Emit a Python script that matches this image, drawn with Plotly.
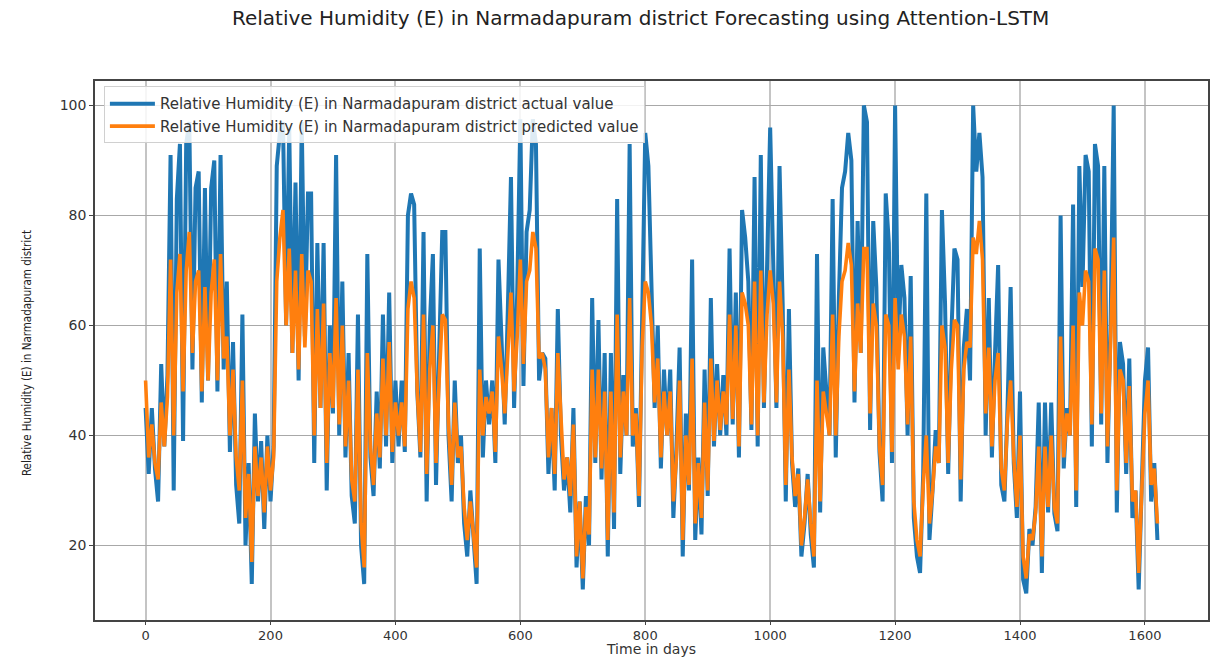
import plotly.graph_objects as go

# Time index (days), sampled every 5 days
days = list(range(0, 1621, 5))

actual = [
    45, 33, 45, 34, 28, 53, 38, 51, 91, 30,
    83, 93, 39, 93, 97, 52, 85, 88, 46, 85,
    50, 85, 90, 48, 91, 52, 68, 37, 57, 31,
    24, 62, 20, 35, 13, 44, 28, 39, 23, 40,
    28, 38, 89, 95, 97, 60, 96, 55, 86, 50,
    97, 58, 84, 84, 35, 75, 45, 75, 30, 60,
    44, 91, 40, 68, 36, 55, 29, 24, 62, 20,
    13, 73, 36, 29, 48, 34, 62, 38, 66, 35,
    50, 38, 50, 37, 80, 84, 82, 48, 36, 77,
    28, 60, 73, 31, 55, 77, 77, 40, 28, 50,
    35, 40, 24, 18, 30, 20, 13, 74, 36, 50,
    42, 50, 35, 72, 58, 42, 63, 87, 45, 66,
    97.5, 49, 77, 81, 97.5, 93, 50, 55, 54, 33,
    45, 30, 63, 40, 30, 36, 26, 45, 16, 28,
    12, 29, 20, 65, 35, 61, 32, 55, 18, 55,
    23, 83, 33, 51, 40, 93, 38, 45, 27, 67,
    95, 89, 70, 45, 60, 34, 52, 40, 52, 25,
    38, 56, 18, 44, 30, 72, 21, 36, 22, 52,
    29, 65, 38, 53, 40, 51, 40, 74, 42, 66,
    36, 81, 76, 68, 41, 87, 38, 91, 45, 70,
    96, 71, 45, 89, 64, 28, 63, 35, 27, 34,
    18, 24, 33, 22, 16, 73, 26, 56, 47, 40,
    83, 36, 65, 85, 88, 95, 90, 46, 79, 55,
    100, 97, 41, 79, 67, 37, 28, 84, 75, 35,
    100, 55, 71, 65, 40, 69, 25, 18, 15, 33,
    84, 21, 30, 41, 35, 81, 64, 33, 58, 74,
    72, 28, 56, 63, 50, 100, 88, 95, 87, 40,
    65, 36, 55, 71, 31, 28, 45, 67, 35, 25,
    48, 13.8, 11.3, 23, 20, 27, 46, 15, 46, 26,
    46, 25.8, 22.6, 80, 34, 45, 40, 82, 27, 89,
    67, 91, 88, 38, 93, 89, 42, 89, 35, 60,
    100, 26, 57, 53, 33, 54, 25, 30, 12, 33,
    50, 56, 28, 35, 21,
]

predicted = [
    50, 36, 42, 35, 32, 46, 38, 47, 72, 40,
    66, 73, 48, 70, 77, 55, 68, 70, 48, 67,
    50, 66, 72, 50, 73, 54, 58, 40, 52, 36,
    30, 50, 25, 33, 17, 38, 29, 36, 26, 38,
    30, 36, 68, 76, 81, 60, 74, 55, 70, 52,
    73, 56, 70, 68, 40, 63, 45, 64, 35, 55,
    45, 65, 42, 60, 38, 50, 32, 28, 52, 24,
    16, 55, 38, 31, 44, 36, 54, 40, 57, 37,
    46, 40, 46, 38, 63, 68, 65, 48, 37, 62,
    33, 52, 60, 35, 50, 62, 61, 42, 31, 46,
    36, 38, 27, 21, 28, 22, 16, 52, 40, 47,
    44, 48, 37, 58, 52, 44, 56, 66, 48, 58,
    72, 53, 68, 70, 77, 74, 54, 55, 52, 36,
    45, 33, 55, 42, 32, 36, 29, 42, 18, 28,
    14, 27, 22, 52, 36, 52, 34, 48, 21, 48,
    26, 62, 36, 48, 40, 65, 40, 44, 29, 56,
    68, 66, 60, 46, 54, 36, 48, 40, 48, 28,
    36, 50, 21, 40, 31, 54, 24, 35, 25, 46,
    30, 54, 39, 50, 41, 48, 42, 62, 43, 60,
    38, 66, 64, 60, 42, 68, 40, 70, 46, 62,
    70, 64, 46, 68, 58, 31, 52, 36, 29, 33,
    20, 25, 32, 24, 18, 50, 28, 48, 44, 40,
    62, 40, 58, 68, 70, 75, 71, 48, 64, 55,
    74, 74, 44, 64, 60, 38, 31, 62, 60, 37,
    65, 52, 62, 58, 42, 58, 28, 21, 18, 31,
    40, 24, 30, 38, 35, 60, 56, 35, 52, 61,
    60, 32, 52, 57, 56, 76, 73, 79, 72, 44,
    56, 38, 50, 55, 34, 30, 43, 50, 36, 27,
    40, 18, 14, 22, 21, 26, 38, 18, 38, 27,
    40, 27, 24, 58, 36, 44, 40, 60, 30, 66,
    60, 70, 68, 42, 74, 72, 44, 70, 38, 55,
    76, 30, 52, 50, 35, 49, 28, 30, 15, 30,
    44, 50, 31, 34, 24,
]

x_ticks = [0, 200, 400, 600, 800, 1000, 1200, 1400, 1600]
y_ticks = [20, 40, 60, 80, 100]

title_text = "Relative Humidity (E) in Narmadapuram district Forecasting using Attention-LSTM"
x_title = "Time in days"
y_title = "Relative Humidity (E) in Narmadapuram district"
name_actual = "Relative Humidity (E) in Narmadapuram district actual value"
name_pred = "Relative Humidity (E) in Narmadapuram district predicted value"

W, H = 1216, 658
L, R, T, B = 95, 6, 81, 38
pw, ph = W - L - R, H - T - B


def px_to_paper(px, py):
    return (px - L) / pw, (H - B - py) / ph


fig = go.Figure()
fig.add_trace(go.Scatter(x=days, y=actual, mode="lines", name=name_actual,
                         line=dict(color="#1f77b4", width=4)))
fig.add_trace(go.Scatter(x=days, y=predicted, mode="lines", name=name_pred,
                         line=dict(color="#ff7f0e", width=3.6)))

tick_font = dict(family="DejaVu Sans", size=13, color="#333")

tx, ty = px_to_paper(641, 18)
xx, xy = px_to_paper(652, 649)
yx, yy = px_to_paper(27, 353)

fig.update_layout(
    width=W, height=H,
    margin=dict(l=L, r=R, t=T, b=B),
    paper_bgcolor="white", plot_bgcolor="white",
    showlegend=True,
    legend=dict(x=0.008, y=0.99, xanchor="left", yanchor="top",
                bgcolor="rgba(255,255,255,0.85)", bordercolor="#d0d0d0", borderwidth=1,
                font=dict(family="DejaVu Sans", size=15, color="#333"),
                itemwidth=45, tracegroupgap=0),
    xaxis=dict(range=[-81, 1701], tickvals=x_ticks, ticks="outside", ticklen=3,
               tickcolor="#444", tickfont=tick_font,
               showgrid=True, gridcolor="#c4c4c4", gridwidth=2,
               showline=True, linecolor="#444", linewidth=1.5, mirror=True, zeroline=False),
    yaxis=dict(range=[6.45, 104.45], tickvals=y_ticks, ticks="outside", ticklen=4,
               tickcolor="#444", tickfont=dict(family="DejaVu Sans", size=14, color="#333"),
               showgrid=True, gridcolor="#a8a8a8", gridwidth=1,
               showline=True, linecolor="#444", linewidth=1.5, mirror=True, zeroline=False),
    annotations=[
        dict(text=title_text, x=tx, y=ty, xref="paper", yref="paper", showarrow=False,
             xanchor="center", yanchor="middle",
             font=dict(family="DejaVu Sans", size=20, color="#222")),
        dict(text=x_title, x=xx, y=xy, xref="paper", yref="paper", showarrow=False,
             xanchor="center", yanchor="middle",
             font=dict(family="DejaVu Sans", size=14, color="#333")),
        dict(text=y_title, x=yx, y=yy, xref="paper", yref="paper", showarrow=False,
             xanchor="center", yanchor="middle", textangle=-90,
             font=dict(family="Liberation Sans Narrow, DejaVu Sans Condensed, Arial Narrow, sans-serif",
                       size=11.5, color="#222")),
    ],
)

fig.write_html("out.html")
